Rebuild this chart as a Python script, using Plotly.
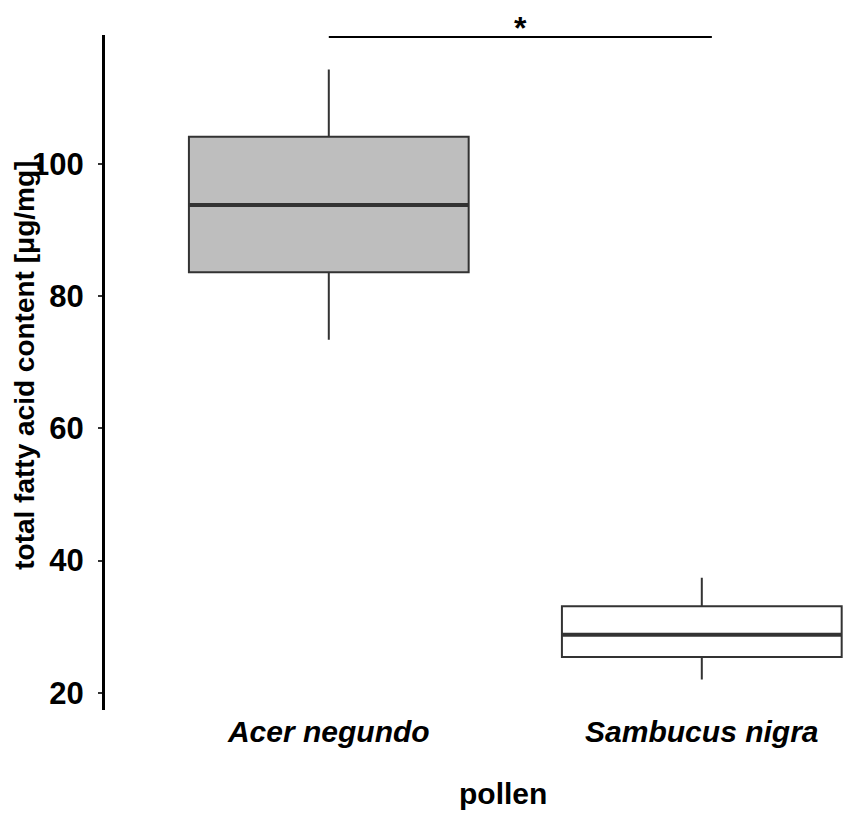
import plotly.graph_objects as go

# pollen species and box statistics (total fatty acid content, µg/mg)
species = ['Acer negundo', 'Sambucus nigra']
fills = ['#BEBEBE', '#FFFFFF']
lower_whisker = [73.4, 22.0]
q1 = [83.6, 25.4]
median = [93.8, 28.8]
q3 = [104.1, 33.1]
upper_whisker = [114.3, 37.4]

# significance bracket between the two groups
bracket_x = [0, 1.027]
bracket_y = 119.2
bracket_label = '*'

y_ticks = [20, 40, 60, 80, 100]
box_width = 0.75
font = 'Liberation Sans, Arial, sans-serif'

fig = go.Figure()

for i, name in enumerate(species):
    fig.add_trace(go.Box(
        x=[i], q1=[q1[i]], median=[median[i]], q3=[q3[i]],
        lowerfence=[lower_whisker[i]], upperfence=[upper_whisker[i]],
        width=box_width, whiskerwidth=0, fillcolor=fills[i],
        line=dict(color='#333333', width=2),
        boxpoints=False, hoverinfo='skip', name=name, showlegend=False,
    ))
    # thicker median line, as in ggplot
    fig.add_trace(go.Scatter(
        x=[i - box_width / 2, i + box_width / 2], y=[median[i], median[i]],
        mode='lines', line=dict(color='#333333', width=4),
        hoverinfo='skip', showlegend=False,
    ))

fig.add_trace(go.Scatter(
    x=bracket_x, y=[bracket_y, bracket_y], mode='lines',
    line=dict(color='black', width=2), hoverinfo='skip', showlegend=False,
))

# the page body has an 8px margin, so the figure is 8px smaller each way
fig.update_layout(
    width=843, height=806,
    margin=dict(l=97, r=0, t=27, b=104),
    plot_bgcolor='white', paper_bgcolor='white',
    font=dict(family=font, color='black'),
    xaxis=dict(
        range=[-0.6, 1.4], tickmode='array', tickvals=list(range(len(species))),
        ticktext=['<i>%s</i>' % s for s in species],
        tickfont=dict(size=30, weight='bold', color='black'),
        showline=False, showgrid=False, zeroline=False, ticks='',
        ticklabelstandoff=1,
    ),
    yaxis=dict(
        range=[17.4, 119.5], tickvals=y_ticks,
        tickfont=dict(size=31, weight='bold', color='black'),
        showline=True, linecolor='black', linewidth=3,
        ticks='outside', ticklen=4, tickwidth=1.5, tickcolor='#333333',
        ticklabelstandoff=8,
        showgrid=False, zeroline=False,
    ),
    annotations=[
        dict(text='total fatty acid content [μg/mg]', xref='paper', yref='paper',
             x=-0.1072, y=0.51, xanchor='center', yanchor='middle', textangle=-90,
             showarrow=False, font=dict(size=28, weight='bold', color='black')),
        dict(text='pollen', xref='paper', yref='paper', x=0.5335, y=-0.123,
             xanchor='center', yanchor='middle', showarrow=False,
             font=dict(size=30, weight='bold', color='black')),
        dict(text=bracket_label, xref='x', yref='paper', x=sum(bracket_x) / 2, y=1.038,
             xanchor='center', yanchor='top', borderpad=0, showarrow=False,
             font=dict(size=32, weight='bold', color='black')),
    ],
)

fig.write_html('out.html')
